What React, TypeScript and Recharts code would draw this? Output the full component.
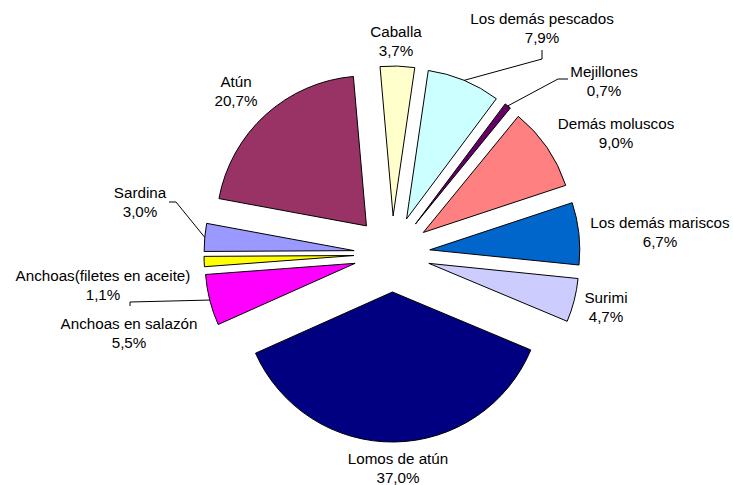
import React from "react";
import { PieChart, Pie, Cell, Sector } from "recharts";

// categorías y porcentajes, en el orden del gráfico (sentido horario desde arriba)
const CATEGORIAS = [
  "Caballa",
  "Los demás pescados",
  "Mejillones",
  "Demás moluscos",
  "Los demás mariscos",
  "Surimi",
  "Lomos de atún",
  "Anchoas en salazón",
  "Anchoas(filetes en aceite)",
  "Sardina",
  "Atún",
];
const PORCENTAJES = [3.7, 7.9, 0.7, 9.0, 6.7, 4.7, 37.0, 5.5, 1.1, 3.0, 20.7];
const COLORES = [
  "#FFFFCC",
  "#CCFFFF",
  "#660066",
  "#FF8080",
  "#0066CC",
  "#CCCCFF",
  "#000080",
  "#FF00FF",
  "#FFFF00",
  "#9999FF",
  "#993366",
];

const datos = CATEGORIAS.map((nombre, i) => ({ nombre, valor: PORCENTAJES[i] }));

// maquetación de etiquetas (centro de la primera línea) y codos de las líneas guía
const ETIQUETAS: [number, number][] = [
  [396, 31],
  [542, 18],
  [604, 71],
  [616, 123],
  [660, 222],
  [606, 297],
  [398, 458],
  [129, 323],
  [103, 275],
  [140, 192],
  [236, 81],
];
const GUIAS: Record<number, [number, number][]> = {
  1: [[542, 50], [542, 59]],
  2: [[568, 79], [558, 79]],
  7: [[130, 306], [130, 302]],
  9: [[169, 202], [176, 202]],
};

const SEPARACION = 38;
const RAD = Math.PI / 180;

const Porcion = (props: any) => {
  const { cx, cy, midAngle } = props;
  const dx = SEPARACION * Math.cos(-midAngle * RAD);
  const dy = SEPARACION * Math.sin(-midAngle * RAD);
  return <Sector {...props} cx={cx + dx} cy={cy + dy} />;
};

const Etiqueta = (props: any) => {
  const { index, cx, cy, midAngle, outerRadius, payload } = props;
  const [x, y] = ETIQUETAS[index];
  const cos = Math.cos(-midAngle * RAD);
  const sin = Math.sin(-midAngle * RAD);
  const guia = GUIAS[index];
  let linea = null;
  if (guia) {
    const ex = cx + (SEPARACION + outerRadius) * cos;
    const ey = cy + (SEPARACION + outerRadius) * sin;
    const pts = [...guia, [ex, ey]].map((p) => p.join(",")).join(" ");
    linea = <polyline points={pts} fill="none" stroke="#000" strokeWidth={1} />;
  }
  const pct = payload.valor.toFixed(1).replace(".", ",") + "%";
  return (
    <g>
      {linea}
      <text x={x} y={y} textAnchor="middle" dominantBaseline="central" fill="#000" fontSize={15.2}>
        {payload.nombre}
      </text>
      <text x={x} y={y + 19} textAnchor="middle" dominantBaseline="central" fill="#000" fontSize={15.2}>
        {pct}
      </text>
    </g>
  );
};

export default function App() {
  return (
    <div style={{ position: "absolute", left: 0, top: 0, background: "#fff" }}>
      <PieChart
        width={733}
        height={485}
        margin={{ top: 0, right: 0, bottom: 0, left: 0 }}
        style={{ fontFamily: "'Liberation Sans', Arial, sans-serif" }}
      >
        <Pie
          data={datos}
          dataKey="valor"
          nameKey="nombre"
          cx={392}
          cy={254}
          outerRadius={150}
          startAngle={95}
          endAngle={-265}
          stroke="#000"
          strokeWidth={1}
          shape={Porcion}
          label={Etiqueta}
          labelLine={false}
          isAnimationActive={false}
        >
          {datos.map((d, i) => (
            <Cell key={d.nombre} fill={COLORES[i]} />
          ))}
        </Pie>
      </PieChart>
    </div>
  );
}
